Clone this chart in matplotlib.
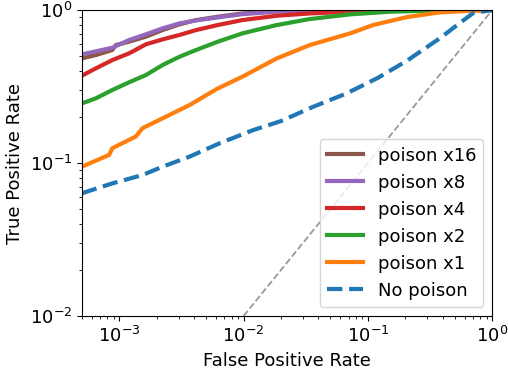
import numpy as np
import matplotlib
matplotlib.use("Agg")
import matplotlib.pyplot as plt

# FPR / TPR points (log-log ROC)
fpr_none = [5e-4, 8.8e-4, 1.54e-3, 2.23e-3, 3.67e-3, 6.4e-3, 1.19e-2, 2.0e-2, 3.62e-2, 6.73e-2, 1.2e-1, 2.05e-1, 3.81e-1, 5.22e-1, 7.03e-1, 1.0]
tpr_none = [0.0634, 0.0736, 0.0835, 0.0946, 0.11, 0.1345, 0.164, 0.188, 0.233, 0.285, 0.36, 0.465, 0.656, 0.798, 0.956, 1.0]

fpr_x1 = [5e-4, 8.3e-4, 8.8e-4, 1.36e-3, 1.54e-3, 2.23e-3, 3.67e-3, 6.1e-3, 9.8e-3, 1.85e-2, 3.4e-2, 7.2e-2, 1.1e-1, 2.07e-1, 3.81e-1, 7.0e-1, 1.0]
tpr_x1 = [0.0946, 0.113, 0.125, 0.149, 0.169, 0.196, 0.239, 0.305, 0.367, 0.483, 0.59, 0.704, 0.798, 0.90, 0.966, 0.99, 1.0]

fpr_x2 = [5e-4, 6.5e-4, 8.8e-4, 1.2e-3, 1.64e-3, 2.23e-3, 3.05e-3, 4.15e-3, 6.2e-3, 9.8e-3, 1.85e-2, 3.4e-2, 7.2e-2, 1.5e-1, 3.5e-1, 1.0]
tpr_x2 = [0.245, 0.265, 0.30, 0.337, 0.376, 0.437, 0.495, 0.548, 0.621, 0.704, 0.798, 0.873, 0.937, 0.975, 0.993, 1.0]

fpr_x4 = [5e-4, 6.5e-4, 8.8e-4, 1.2e-3, 1.64e-3, 2.23e-3, 3.05e-3, 4.15e-3, 6.2e-3, 9.8e-3, 1.85e-2, 3.4e-2, 7.2e-2, 2.0e-1, 1.0]
tpr_x4 = [0.372, 0.416, 0.471, 0.521, 0.597, 0.643, 0.687, 0.74, 0.798, 0.86, 0.918, 0.95, 0.975, 0.992, 1.0]

fpr_x8 = [5e-4, 8.8e-4, 1.2e-3, 1.64e-3, 2.23e-3, 3.05e-3, 4.15e-3, 6.2e-3, 9.8e-3, 1.85e-2, 4.0e-2, 1.0e-1, 1.0]
tpr_x8 = [0.513, 0.567, 0.637, 0.694, 0.759, 0.818, 0.855, 0.895, 0.94, 0.975, 0.99, 0.997, 1.0]

fpr_x16 = [5e-4, 6.5e-4, 8.8e-4, 9.4e-4, 1.2e-3, 1.64e-3, 2.23e-3, 3.05e-3, 4.15e-3, 6.2e-3, 9.8e-3, 1.85e-2, 4.0e-2, 1.0]
tpr_x16 = [0.483, 0.508, 0.548, 0.59, 0.621, 0.67, 0.74, 0.806, 0.86, 0.904, 0.95, 0.985, 0.995, 1.0]

fig = plt.figure(figsize=(5.08, 3.72), dpi=100)
ax = fig.add_axes([0.161, 0.1505, 0.808, 0.8225])

ax.plot([1e-2, 1], [1e-2, 1], ls='--', color='#999999', lw=1.3)
ax.plot(fpr_x16, tpr_x16, color='tab:brown', lw=3, label='poison x16')
ax.plot(fpr_x8, tpr_x8, color='tab:purple', lw=3, label='poison x8')
ax.plot(fpr_x4, tpr_x4, color='tab:red', lw=3, label='poison x4')
ax.plot(fpr_x2, tpr_x2, color='tab:green', lw=3, label='poison x2')
ax.plot(fpr_x1, tpr_x1, color='tab:orange', lw=3, label='poison x1')
ax.plot(fpr_none, tpr_none, color='tab:blue', lw=3, ls='--', label='No poison')

ax.set_xscale('log')
ax.set_yscale('log')
ax.set_xlim(5e-4, 1)
ax.set_ylim(1e-2, 1)
ax.set_xlabel('False Positive Rate', fontsize=13, labelpad=4.5)
ax.set_ylabel('True Positive Rate', fontsize=13)
ax.tick_params(labelsize=13)
ax.legend(loc='lower right', fontsize=13)

fig.savefig('out.png', dpi=100)
